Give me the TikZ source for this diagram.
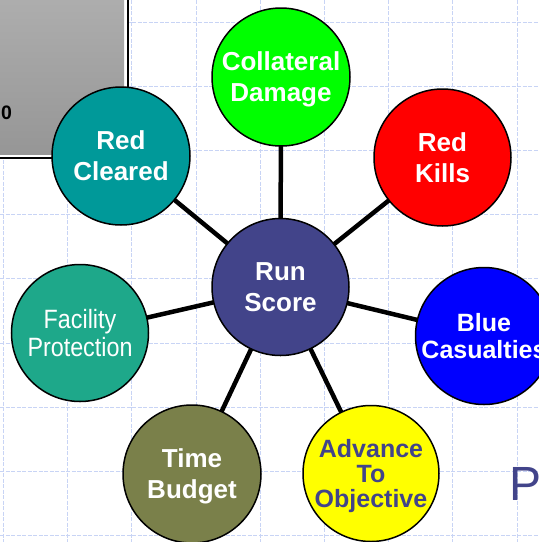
\documentclass[tikz,border=0pt]{standalone}
\usepackage{fontspec}
\setmainfont{Liberation Sans}
\newfontfamily\narrowfont[FakeStretch=0.88]{Liberation Sans}
\pgfdeclarelayer{gridlayer}
\pgfdeclarelayer{edgelayer}
\pgfsetlayers{gridlayer,edgelayer,main}
\definecolor{gridblue}{RGB}{200,212,245}
\definecolor{runblue}{RGB}{66,68,138}
\definecolor{tealc}{RGB}{0,153,153}
\definecolor{facgreen}{RGB}{30,168,138}
\definecolor{olivec}{RGB}{122,128,74}
\definecolor{limec}{RGB}{0,255,0}
\definecolor{redc}{RGB}{255,0,0}
\definecolor{bluec}{RGB}{0,0,255}
\definecolor{yellowc}{RGB}{255,255,0}
\definecolor{graytop}{RGB}{174,174,174}
\definecolor{graybot}{RGB}{150,150,150}
\tikzset{
  bubble/.style={circle, draw=black, line width=1.5pt, inner sep=0pt, minimum size=138pt,
    text=white, align=center, text depth=0pt, font=\bfseries\fontsize{26}{31}\selectfont},
  spoke/.style={line width=4.5pt, black},
  gridline/.style={gridblue, line width=0.9pt, dash pattern=on 4pt off 1.5pt}
}
\begin{document}
\begin{tikzpicture}[x=1pt,y=-1pt]
\useasboundingbox (0,0) rectangle (539,542);
% grid
\begin{pgfonlayer}{gridlayer}
\foreach \i in {0,...,8}{
  \draw[gridline] ({3.5+64.2*\i},0) -- ({3.5+64.2*\i},542);
  \draw[gridline] (0,{22+64.2*\i}) -- (539,{22+64.2*\i});
}
% gray box
\fill[black] (-5,-5) rectangle (129,159.3);
\fill[white] (-5,-5) rectangle (126.7,156.7);
\shade[top color=graytop, bottom color=graybot] (-5,-5) rectangle (124,154);
\end{pgfonlayer}
\node[anchor=base west, inner sep=0pt, font=\bfseries\fontsize{19.5}{22}\selectfont] (zero) at (1,119.3) {0};
% nodes
\node[bubble, fill=runblue, minimum size=137pt] (run) at (280.5,287) {Run\\Score};
\node[bubble, fill=limec] (coll) at (281,77) {Collateral\\Damage};
\node[bubble, fill=redc, minimum size=137pt] (kills) at (442.5,157.5) {Red\\Kills};
\node[bubble, fill=tealc] (cleared) at (121,156) {Red\\Cleared};
\node[bubble, fill=facgreen, minimum size=137pt, font=\narrowfont\fontsize{26.5}{28.5}\selectfont] (fac) at (80,333) {Facility\\Protection};
\node[bubble, fill=bluec, minimum size=137pt, font=\bfseries\fontsize{25}{26.8}\selectfont] (blue) at (484,336) {Blue\\Casualties};
\node[bubble, fill=yellowc, minimum size=136pt, text=runblue, font=\bfseries\fontsize{25}{25}\selectfont] (adv) at (371,473.5) {Advance\\To\\Objective};
\node[bubble, fill=olivec] (time) at (192,474) {Time\\Budget};
\node[anchor=base west, inner sep=0pt, text=runblue, font=\fontsize{48}{50}\selectfont] (p) at (509,500) {P};
% spokes
\begin{pgfonlayer}{edgelayer}
\foreach \n in {coll,kills,cleared,fac,blue,adv,time}{
  \draw[spoke] (run.center) -- (\n.center);
}
\end{pgfonlayer}
\end{tikzpicture}
\end{document}
